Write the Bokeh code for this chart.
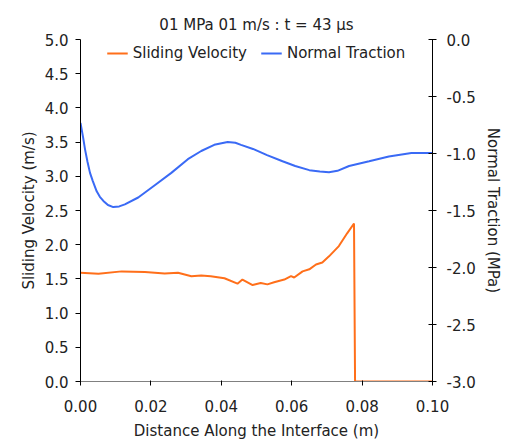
from bokeh.plotting import figure
from bokeh.models import Range1d, LinearAxis, FixedTicker, NumeralTickFormatter, Legend, LegendItem
from bokeh.embed import file_html
from bokeh.resources import INLINE

# ---- data ----
distance_sv = [0.0, 0.0051, 0.0117, 0.0183, 0.0239, 0.0277, 0.0315, 0.0343, 0.0370, 0.0409,
               0.0446, 0.0460, 0.0489, 0.0512, 0.0531, 0.0550, 0.0579, 0.0598, 0.0607, 0.0631,
               0.0650, 0.0669, 0.0687, 0.0706, 0.0734, 0.0758, 0.0777, 0.0780, 0.0900, 0.1000]
sliding_velocity = [1.59, 1.575, 1.61, 1.60, 1.58, 1.59, 1.54, 1.55, 1.54, 1.51,
                    1.43, 1.49, 1.41, 1.44, 1.42, 1.45, 1.49, 1.54, 1.52, 1.61,
                    1.64, 1.71, 1.74, 1.83, 1.98, 2.17, 2.31, 0.0, 0.0, 0.0]

distance_nt = [0.0, 0.0007, 0.0013, 0.0020, 0.0027, 0.0035, 0.0046, 0.0055, 0.0065, 0.0078,
               0.0093, 0.0110, 0.0126, 0.0164, 0.0211, 0.0258, 0.0305, 0.0343, 0.0380, 0.0418,
               0.0440, 0.0456, 0.0490, 0.0530, 0.0574, 0.0610, 0.0650, 0.0680, 0.0706, 0.0730,
               0.0763, 0.0820, 0.0876, 0.0940, 0.1000]
normal_traction = [-0.732, -0.852, -0.966, -1.074, -1.17, -1.242, -1.332, -1.38, -1.416, -1.452,
                   -1.47, -1.464, -1.446, -1.386, -1.278, -1.17, -1.05, -0.978, -0.924, -0.90,
                   -0.906, -0.924, -0.96, -1.014, -1.068, -1.11, -1.146, -1.158, -1.164, -1.152,
                   -1.11, -1.068, -1.026, -0.996, -0.996]

x_ticks = [0.0, 0.02, 0.04, 0.06, 0.08, 0.10]
left_ticks = [0.0, 0.5, 1.0, 1.5, 2.0, 2.5, 3.0, 3.5, 4.0, 4.5, 5.0]
right_ticks = [-3.0, -2.5, -2.0, -1.5, -1.0, -0.5, 0.0]

FONT = "DejaVu Sans"
FS = "15px"
ORANGE = "#ff6f1a"
BLUE = "#3a6af5"

p = figure(width=504, height=442, output_backend="svg", toolbar_location=None,
           x_range=Range1d(0, 0.1), y_range=Range1d(0, 5),
           min_border_left=80, min_border_right=70, min_border_top=39, min_border_bottom=61,
           title="01 MPa 01 m/s : t = 43 \u03bcs")
p.outline_line_color = None
p.xgrid.visible = False
p.ygrid.visible = False
p.background_fill_color = "white"
p.border_fill_color = "white"

p.title.align = "center"
p.title.text_font = FONT
p.title.text_font_size = FS
p.title.text_font_style = "normal"
p.title.text_color = "#222222"
p.title.standoff = 11

p.extra_y_ranges = {"nt": Range1d(-3, 0)}

r1 = p.line(distance_sv, sliding_velocity, line_color=ORANGE, line_width=2)
r2 = p.line(distance_nt, normal_traction, line_color=BLUE, line_width=2, y_range_name="nt")

# axes
xa = p.xaxis[0]
xa.ticker = FixedTicker(ticks=x_ticks)
xa.formatter = NumeralTickFormatter(format="0.00")
xa.axis_label = "Distance Along the Interface (m)"
xa.axis_line_color = "#808080"
xa.major_tick_in = 1
xa.major_tick_out = 4
xa.major_label_standoff = 14
xa.axis_label_standoff = 7

ya = p.yaxis[0]
ya.ticker = FixedTicker(ticks=left_ticks)
ya.formatter = NumeralTickFormatter(format="0.0")
ya.axis_label = "Sliding Velocity (m/s)"
ya.major_tick_in = 0
ya.major_tick_out = 5
ya.major_label_standoff = 7
ya.axis_label_standoff = 4

ra = LinearAxis(y_range_name="nt", ticker=FixedTicker(ticks=right_ticks),
                formatter=NumeralTickFormatter(format="0.0"),
                axis_label="Normal Traction (MPa)")
ra.major_tick_in = 4
ra.major_tick_out = 4
ra.major_label_standoff = 10
ra.axis_label_standoff = 5
p.add_layout(ra, "right")

for ax in [xa, ya, ra]:
    ax.minor_tick_line_color = None
    ax.major_label_text_font = FONT
    ax.major_label_text_font_size = FS
    ax.major_label_text_color = "#222222"
    ax.axis_label_text_font = FONT
    ax.axis_label_text_font_size = FS
    ax.axis_label_text_font_style = "normal"
    ax.axis_label_text_color = "#222222"
    ax.major_tick_line_color = "black"
ya.axis_line_color = "black"
ra.axis_line_color = "black"

legend = Legend(items=[LegendItem(label="Sliding Velocity", renderers=[r1]),
                       LegendItem(label="Normal Traction", renderers=[r2])],
                location="top_center", orientation="horizontal")
legend.border_line_color = None
legend.background_fill_alpha = 0
legend.label_text_font = FONT
legend.label_text_font_size = FS
legend.label_text_color = "#222222"
legend.glyph_width = 21
legend.label_standoff = 5
legend.spacing = 14
legend.padding = 0
legend.margin = 4
p.add_layout(legend)

open("out.html", "w").write(file_html(p, INLINE))
